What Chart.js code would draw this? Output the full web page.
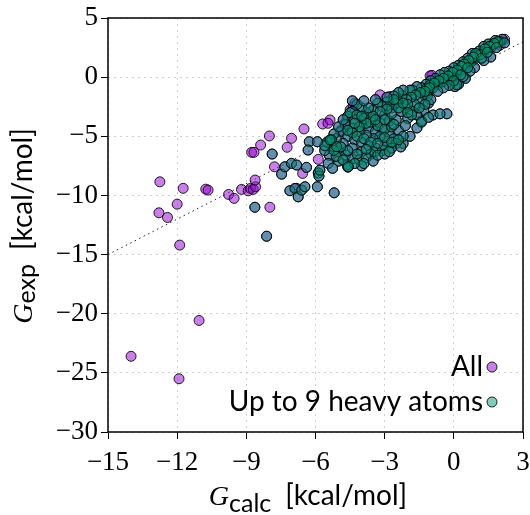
<!DOCTYPE html>
<html>
<head>
<meta charset="UTF-8">
<title>G calc vs G exp</title>
<script src="https://cdn.jsdelivr.net/npm/chart.js"></script>
<style>
  html, body { margin: 0; padding: 0; background: #fff; }
</style>
</head>
<body>
<canvas id="c" width="530" height="515"></canvas>
<script>
// [G_calc, G_exp] in kcal/mol
// molecules with up to 9 heavy atoms (also part of "All")
const heavy9Points = [
  // upper band
  [2.1,3.2],[2.0,3.0],[1.9,2.9],[1.8,3.1],[1.7,2.7],[1.6,2.5],[1.5,2.8],[1.4,2.3],[1.3,2.6],[1.2,2.0],
  [1.1,2.2],[1.0,1.8],[0.9,1.5],[0.8,2.0],[0.7,1.2],[0.6,1.6],[0.5,0.9],[0.4,1.3],[0.3,0.6],[0.2,1.0],
  [0.1,0.3],[0.0,0.8],[-0.1,0.1],[-0.2,0.5],[-0.3,-0.2],[-0.4,0.4],[-0.5,-0.4],[-0.6,0.2],[-0.7,-0.6],[-0.8,-0.1],
  [-0.9,-0.9],[-1.0,-0.3],[-1.1,-1.2],[-1.2,-0.6],[-1.3,-1.5],[-1.4,-0.9],[-1.5,-1.9],[-1.6,-0.8],[-1.7,-2.3],[-1.8,-1.1],
  [1.6,1.7],[1.3,1.4],[0.9,0.8],[0.7,0.5],[0.5,-0.1],[0.2,-0.6],[0.05,-0.8],[-0.3,-3.1],[-0.9,-3.2],[-1.1,-2.2],
  [-1.3,-2.8],[-1.4,-3.7],[-1.6,-3.2],[-1.9,-5.0],[-1.8,-2.9],[-2.0,-3.5],[-2.1,-2.6],[-1.2,-1.0],[-1.15,-1.6],[-1.0,-1.9],
  [-1.25,-2.3],[-1.05,-0.7],[0.13,-0.65],[0.4,0.05],[-1.9,-1.1],[-1.83,-3.2],[-2.2,-5.6],[-3.42,-6.3],[-5.88,-8.1],
  [1.9,3.0],[1.75,2.85],[1.55,2.6],[1.35,2.4],[1.15,1.9],[0.95,2.0],[0.85,1.7],[0.65,1.4],[0.45,1.1],[0.35,0.9],
  [0.15,0.6],[-0.05,0.4],[-0.25,0.1],[-0.45,-0.1],[-0.65,-0.3],[-0.85,-0.5],[-1.05,-0.9],[-1.25,-1.2],[-1.45,-1.3],[-1.65,-1.5],
  [-1.85,-1.7],[-2.05,-1.9],[-2.25,-1.6],[-2.45,-1.9],[-2.0,-2.3],[-1.5,-2.6],[1.2,1.6],[1.45,2.1],[1.85,2.5],[2.2,2.9],
  [0.6,0.8],[0.3,0.2],[0.0,-0.3],[-0.2,-0.7],[-0.45,-0.9],[-0.7,-1.2],[-1.6,-4.3],[-1.4,-3.8],[-1.1,-3.4],[-0.6,-3.1],
  // dense cluster
  [-2.2,-1.1],[-2.4,-1.3],[-2.6,-1.6],[-2.5,-2.2],[-2.3,-2.9],[-2.7,-2.6],[-2.9,-2.1],[-3.1,-2.5],[-3.3,-2.2],[-3.5,-2.8],
  [-3.0,-3.2],[-2.8,-3.7],[-3.2,-3.9],[-3.6,-3.4],[-3.8,-3.0],[-4.0,-2.6],[-4.2,-2.3],[-4.4,-2.9],[-4.6,-3.3],[-4.3,-3.6],
  [-4.0,-4.0],[-3.7,-4.3],[-3.4,-4.6],[-3.1,-4.4],[-2.8,-4.8],[-2.6,-5.2],[-2.4,-4.5],[-2.2,-5.0],[-2.5,-5.6],[-2.9,-5.4],
  [-3.2,-5.0],[-3.5,-5.2],[-3.8,-4.9],[-4.1,-4.6],[-4.4,-4.3],[-4.7,-4.0],[-4.9,-4.6],[-4.6,-5.0],[-4.3,-5.3],[-4.0,-5.5],
  [-3.7,-5.8],[-3.4,-6.0],[-3.1,-6.2],[-3.6,-6.5],[-4.0,-6.3],[-4.4,-6.0],[-4.8,-5.6],[-5.1,-5.2],[-5.3,-5.9],[-5.0,-6.3],
  [-4.7,-6.6],[-4.4,-6.9],[-4.1,-7.0],[-3.8,-6.8],[-3.5,-7.1],[-4.6,-7.4],[-5.0,-7.1],[-5.4,-6.6],[-5.6,-6.2],[-5.5,-5.5],
  [-5.2,-4.8],[-5.0,-4.2],[-4.8,-3.6],[-3.0,-5.8],[-2.7,-6.0],[-2.3,-5.9],[-2.1,-4.1],[-2.0,-3.0],[-4.6,-7.6],[-4.0,-7.5],
  [-4.5,-3.0],[-4.2,-3.2],[-3.9,-3.5],[-3.6,-3.8],[-3.3,-4.1],[-3.0,-4.4],[-2.7,-4.2],[-2.5,-3.6],[-2.7,-3.1],[-2.9,-2.7],
  [-3.2,-2.9],[-3.5,-3.3],[-3.8,-3.9],[-4.1,-4.2],[-4.4,-4.7],[-4.2,-5.0],[-3.9,-5.2],[-3.6,-5.5],[-3.3,-5.6],[-3.0,-5.1],
  [-2.7,-5.5],[-2.4,-5.3],[-3.8,-6.1],[-4.2,-6.5],[-4.6,-6.2],[-4.9,-5.9],[-5.1,-6.7],[-4.8,-7.0],[-4.3,-7.3],[-3.9,-7.3],
  [-3.3,-6.6],[-3.0,-6.5],[-2.8,-6.3],[-3.4,-3.6],[-3.0,-3.6],[-2.6,-4.0],[-3.7,-2.6],[-4.0,-3.3],[-4.3,-3.9],[-4.6,-4.5],
  [-5.3,-5.3],[-5.6,-5.8],[-5.2,-6.2],[-2.4,-2.6],[-2.2,-2.2],[-2.6,-1.9],[-2.9,-1.7],[-3.4,-1.9],[-3.9,-2.0],[-4.4,-2.0],
  // left of the cluster
  [-7.88,-6.5],[-7.47,-8.2],[-7.33,-7.58],[-7.04,-7.29],[-6.82,-7.43],[-6.39,-7.63],[-7.11,-9.6],[-6.89,-9.41],[-6.75,-10.12],[-6.6,-9.55],
  [-6.46,-9.27],[-5.92,-9.27],[-5.85,-8.36],[-5.19,-9.78],[-6.27,-5.46],[-5.92,-5.46],[-6.32,-6.16],[-5.45,-7.29],[-5.26,-7.71],[-4.58,-7.58],
  [-8.63,-11.0],[-8.12,-13.45],[-5.81,-7.86],[-5.37,-5.31],[-5.08,-5.88]
];

// the remaining molecules (only in "All")
const otherPoints = [
  [-14.0,-23.6],[-11.92,-25.5],[-11.05,-20.57],[-11.89,-14.2],[-12.79,-11.47],[-12.42,-11.86],[-12.0,-10.74],[-12.75,-8.85],[-11.74,-9.4],[-10.76,-9.47],
  [-10.66,-9.55],[-9.77,-9.92],[-9.53,-10.25],[-9.21,-9.49],[-8.92,-9.61],[-8.82,-9.41],[-8.70,-9.49],[-8.60,-9.27],[-8.62,-8.7],[-8.77,-6.36],
  [-8.67,-6.36],[-8.38,-5.74],[-8.0,-4.97],[-7.78,-7.58],[-7.98,-11.0],[-7.23,-5.93],[-7.04,-5.17],[-6.5,-4.38],[-6.56,-8.14],[-5.88,-6.95],
  [-5.69,-3.96],[-5.37,-3.62],[-5.46,-3.9],[-4.72,-3.9],[-4.7,-3.85],[-4.5,-2.77],[-4.37,-2.49],[-4.29,-2.2],[-3.2,-1.5],[-2.62,-2.2],
  [-2.77,-1.64],[-1.03,0.11],[-0.95,0.15],[2.2,3.2],[2.0,2.7],[-6.82,-9.4],[-4.9,-4.5],[-3.9,-3.3]
];

const xTicks = [-15, -12, -9, -6, -3, 0, 3];
const yTicks = [-30, -25, -20, -15, -10, -5, 0, 5];
const diagonal = [-15, 3];

const legendLabels = ['All', 'Up to 9 heavy atoms'];

const toXY = p => ({ x: p[0], y: p[1] });
const allData = otherPoints.concat(heavy9Points).map(toXY);
const heavy9Data = heavy9Points.map(toXY);

const purple = 'rgba(148, 0, 211, 0.5)';
const teal = 'rgba(0, 158, 115, 0.5)';
const edge = 'rgba(0, 0, 0, 0.85)';

const minus = v => (v < 0 ? '\u2212' + Math.abs(v) : String(v));

function drawRich(ctx, parts, x, y, angle) {
  ctx.save();
  ctx.translate(x, y);
  ctx.rotate(angle);
  let total = 0;
  parts.forEach(p => {
    ctx.font = p.font;
    p.w = ctx.measureText(p.text).width;
    total += p.w + (p.gap || 0);
  });
  let cx = -total / 2;
  ctx.fillStyle = '#000';
  ctx.textAlign = 'left';
  ctx.textBaseline = 'alphabetic';
  parts.forEach(p => {
    ctx.font = p.font;
    ctx.fillText(p.text, cx, p.dy || 0);
    cx += p.w + (p.gap || 0);
  });
  ctx.restore();
}

const extras = {
  id: 'extras',
  afterDraw(chart) {
    const ctx = chart.ctx;
    const a = chart.chartArea;

    // box round the plot
    ctx.save();
    ctx.strokeStyle = '#000';
    ctx.lineWidth = 1.5;
    ctx.strokeRect(a.left, a.top, a.right - a.left, a.bottom - a.top);
    ctx.restore();

    // legend: text right-aligned, marker after it
    const rows = [
      { text: legendLabels[0], color: purple, y: 367 },
      { text: legendLabels[1], color: teal, y: 402 }
    ];
    ctx.save();
    ctx.font = '28px Lato';
    ctx.textAlign = 'right';
    ctx.textBaseline = 'middle';
    rows.forEach(r => {
      ctx.fillStyle = '#000';
      ctx.fillText(r.text, 483, r.y);
      ctx.beginPath();
      ctx.arc(492, r.y, 5, 0, Math.PI * 2);
      ctx.fillStyle = r.color;
      ctx.fill();
      ctx.lineWidth = 1;
      ctx.strokeStyle = edge;
      ctx.stroke();
    });
    ctx.restore();

    // axis titles
    drawRich(ctx, [
      { text: 'G', font: 'italic 28px "Liberation Serif"' },
      { text: 'calc', font: '25px Lato', dy: 7, gap: 14 },
      { text: '[kcal/mol]', font: '28px Lato' }
    ], 308, 505, 0);
    drawRich(ctx, [
      { text: 'G', font: 'italic 28px "Liberation Serif"' },
      { text: 'exp', font: '25px Lato', dy: 3, gap: 14 },
      { text: '[kcal/mol]', font: '28px Lato' }
    ], 32, 226, -Math.PI / 2);
  }
};

const tickFont = { family: 'Liberation Serif', size: 27 };

new Chart(document.getElementById('c'), {
  type: 'scatter',
  data: {
    datasets: [
      {
        label: legendLabels[1],
        data: heavy9Data,
        backgroundColor: teal,
        borderColor: edge,
        borderWidth: 1,
        pointRadius: 5,
        order: 0
      },
      {
        label: legendLabels[0],
        data: allData,
        backgroundColor: purple,
        borderColor: edge,
        borderWidth: 1,
        pointRadius: 5,
        order: 1
      },
      {
        type: 'line',
        label: 'y = x',
        data: diagonal.map(v => ({ x: v, y: v })),
        borderColor: '#222',
        borderWidth: 1,
        borderDash: [1.5, 3.5],
        pointRadius: 0,
        fill: false,
        order: 2
      }
    ]
  },
  options: {
    responsive: false,
    animation: false,
    layout: { padding: { top: 18, right: 7, left: 0, bottom: 0 } },
    plugins: {
      legend: { display: false },
      tooltip: { enabled: false }
    },
    scales: {
      x: {
        type: 'linear',
        min: -15,
        max: 3,
        afterBuildTicks(s) { s.ticks = xTicks.map(v => ({ value: v })); },
        afterFit(s) { s.height = 83; s.paddingLeft = 0; s.paddingRight = 0; },
        ticks: { font: tickFont, color: '#000', padding: 8, callback: minus, maxRotation: 0 },
        grid: { color: '#cfcfcf', lineWidth: 1, tickColor: '#000', tickLength: 7, tickWidth: 1, tickBorderDash: [] },
        border: { display: false, dash: [2, 4] }
      },
      y: {
        type: 'linear',
        min: -30,
        max: 5,
        afterBuildTicks(s) { s.ticks = yTicks.map(v => ({ value: v })); },
        afterFit(s) { s.width = 108; s.paddingTop = 0; s.paddingBottom = 0; },
        ticks: { font: tickFont, color: '#000', padding: 3, callback: minus },
        grid: { color: '#cfcfcf', lineWidth: 1, tickColor: '#000', tickLength: 7, tickWidth: 1, tickBorderDash: [] },
        border: { display: false, dash: [2, 4] }
      }
    }
  },
  plugins: [extras]
});
</script>
</body>
</html>
